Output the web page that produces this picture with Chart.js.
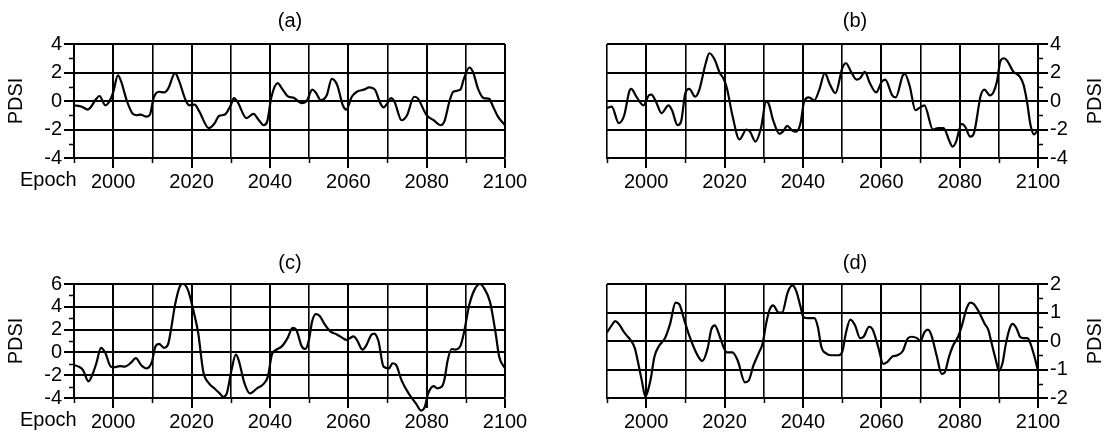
<!DOCTYPE html>
<html><head><meta charset="utf-8">
<script src="https://cdn.jsdelivr.net/npm/chart.js@4.4.0/dist/chart.umd.min.js"></script>
<style>
html,body{margin:0;padding:0;background:#fff;}
#wrap{position:relative;width:1119px;height:444px;overflow:hidden;background:#fff}
canvas{position:absolute}
</style></head><body>
<div id="wrap">
<canvas id="ca" width="559" height="222" style="left:0;top:0;width:559px;height:222px"></canvas>
<canvas id="cb" width="560" height="222" style="left:559px;top:0;width:560px;height:222px"></canvas>
<canvas id="cc" width="559" height="222" style="left:0;top:222px;width:559px;height:222px"></canvas>
<canvas id="cd" width="560" height="222" style="left:559px;top:222px;width:560px;height:222px"></canvas>
</div>
<script>
// ---- data ----
const yearsA = [1990,1992,1993.5,1995.7,1996.5,1998,1999,2000,2001.2,2002,2003.5,2005,2006,2007,2008.5,2009.4,2010.3,2011.7,2013,2014,2015.8,2016.7,2018.5,2019.4,2020.8,2022,2024.4,2025.8,2027,2028.5,2030,2030.8,2031.7,2034,2035.8,2037.2,2038.4,2039.3,2040.4,2042,2043,2044.5,2046.3,2048,2049.5,2050.8,2051.7,2053,2054.5,2055.8,2057.2,2058.6,2059.5,2060.9,2062.2,2064,2065.4,2066.8,2068,2069,2070,2070.9,2071.8,2073.6,2075,2076.8,2077.7,2080,2081.8,2083.6,2084.5,2085.9,2086.8,2088.6,2089.5,2090.9,2091.8,2093.2,2094.6,2096,2096.8,2098.2,2100];
const pdsiA  = [-0.3,-0.4,-0.6,0.15,0.35,-0.3,-0.05,0.6,1.8,1.4,0,-0.9,-1.0,-0.95,-1.1,-0.95,0.2,0.65,0.6,0.85,1.95,1.5,0.05,-0.3,-0.25,-0.75,-1.9,-1.6,-1.05,-0.95,-0.3,0.2,-0.05,-1.2,-0.9,-1.35,-1.7,-1.45,0.3,1.25,0.9,0.35,0.2,-0.15,0.05,0.8,0.6,0.05,0.4,1.55,1.1,-0.3,-0.6,0.3,0.65,0.8,0.95,0.8,-0.05,-0.45,-0.15,0.2,-0.05,-1.35,-1.0,0.3,0.2,-1.0,-1.35,-1.7,-1.45,0.05,0.65,0.8,1.55,2.35,2.05,0.8,0.2,0.15,-0.3,-1.1,-1.7];

const yearsB = [1990,1991.2,1993,1994.4,1995.7,1996.2,1997.5,1999.3,2000.7,2001.3,2002.5,2003.9,2005.7,2006.6,2008,2008.9,2010,2011,2012.5,2013.4,2015.2,2016.1,2017.5,2018.8,2019.7,2020.6,2022,2023.8,2025.6,2026.5,2027.9,2029.3,2030.6,2031.2,2032.4,2034,2034.9,2036,2037.2,2038.3,2039.4,2040.3,2041.5,2042.9,2044.2,2045.6,2046.9,2048.3,2050.1,2051,2052.3,2053.7,2054.6,2055.8,2057.1,2058.7,2060.1,2061,2062.8,2063.7,2065.5,2066,2067.3,2068.7,2069.6,2071,2073.2,2074.5,2075.9,2077.3,2078.2,2079.1,2080.5,2081.4,2082.7,2083.6,2085.4,2086.3,2087.7,2088.6,2089.5,2090.4,2091.3,2092.2,2093.6,2095.4,2096.3,2097.2,2098.1,2099,2100];
const pdsiB  = [-0.5,-0.4,-1.55,-1.0,0.7,0.85,0.3,-0.3,0.4,0.45,-0.05,-0.85,-0.3,-0.65,-1.7,-1.45,0.55,0.85,0.3,0.65,2.65,3.35,2.9,1.95,1.6,0.9,-1.0,-2.7,-2.0,-2.15,-2.85,-1.9,-0.05,-0.15,-1.35,-2.3,-2.15,-1.75,-2.05,-2.15,-1.55,-0.05,0.25,0.05,0.8,1.95,1.15,0.55,2.35,2.65,2.05,1.5,1.6,2.05,1.25,0.6,1.35,1.5,0.4,0.25,1.8,1.9,1.0,-0.65,-0.5,-0.3,-2.0,-1.9,-1.9,-2.75,-3.2,-2.85,-1.6,-1.8,-2.5,-2.3,0.4,0.8,0.4,0.6,1.35,2.8,3.0,2.8,2.1,1.7,1.15,-0.05,-1.7,-2.35,-2.0];

const yearsC = [1990,1991.2,1992.3,1993.7,1994.8,1995.7,1996.9,1998,1999.4,2000.3,2001.7,2003,2004.4,2005.8,2007.1,2008.5,2009.9,2010.8,2011.7,2013,2014,2014.9,2015.8,2017.1,2017.8,2019,2019.9,2020.8,2021.7,2023,2024.4,2025.8,2027.2,2028.1,2029,2030.2,2031.3,2032,2033.5,2034.9,2036.7,2038.1,2039.5,2040.5,2041.7,2043.1,2044.5,2045.8,2046.7,2048.1,2049,2049.9,2050.8,2051.7,2052.7,2054,2055.4,2057.2,2058.6,2059.5,2060.4,2061.3,2062.2,2063.6,2064.5,2065.9,2066.6,2067.7,2069,2070.4,2071.3,2072.2,2073.6,2075.4,2077.3,2078.6,2079.5,2080.4,2081.8,2082.7,2083.9,2084.5,2085.4,2086.4,2087.3,2088.6,2089.5,2090.9,2092.3,2093.6,2094.8,2096.2,2097.6,2098.5,2100];
const pdsiC  = [-1.1,-1.25,-1.55,-2.55,-1.85,-0.95,0.4,-0.05,-1.25,-1.3,-1.2,-1.25,-0.95,-0.5,-1.1,-1.4,-0.8,0.55,0.75,0.4,0.7,2.3,4.2,5.85,6.0,5.55,4.5,3.2,1.7,-1.7,-2.7,-3.15,-3.6,-3.9,-3.6,-1.55,-0.2,-0.65,-2.7,-3.6,-3.15,-2.85,-2.1,-0.2,0.25,0.55,1.25,2.15,2.0,0.55,0.3,1.0,2.75,3.35,3.2,2.45,1.85,1.55,1.25,1.1,1.25,1.4,1.1,0.25,0.55,1.55,1.65,1.0,-1.25,-1.4,-0.95,-1.1,-2.45,-3.6,-4.5,-5.1,-4.8,-3.6,-2.95,-3.15,-3.0,-2.45,-0.65,0.3,0.25,0.55,1.7,4.2,5.55,6.0,5.55,4.4,1.7,-0.35,-1.4];

const yearsD = [1990,1991.2,1992.1,1993,1994.4,1995.3,1996.2,1997.1,1998,1998.9,1999.8,2000.2,2001.2,2002.1,2003.4,2004.8,2006.1,2007.5,2008.4,2009.8,2011.1,2012.9,2014.3,2015.7,2016.6,2017.5,2018.8,2019.7,2020.6,2022,2023.4,2025.2,2026.1,2027.4,2028.8,2029.7,2030.6,2031.5,2032.4,2033.8,2034.7,2036.1,2037.3,2038.3,2039.4,2040.1,2041.5,2042.9,2043.8,2044.7,2046.1,2047.4,2049.2,2050.1,2051,2052.1,2053.3,2054.6,2055.5,2056.9,2057.8,2059.2,2060.5,2061.4,2062.8,2064.1,2065.5,2066.8,2067.8,2069.1,2070,2071,2071.9,2072.8,2074.2,2075.4,2076.2,2077.3,2078.2,2079.6,2080.5,2081.8,2082.7,2083.6,2085,2086.4,2087.3,2088.2,2089.3,2090,2090.9,2091.8,2092.8,2093.5,2094.5,2095.4,2096.3,2097.3,2098.1,2099,2100];
const pdsiD  = [0.3,0.55,0.7,0.6,0.3,0.15,0.0,-0.25,-0.8,-1.4,-1.95,-1.85,-1.3,-0.55,-0.15,0.1,0.6,1.35,1.3,0.7,0.15,-0.45,-0.7,-0.25,0.4,0.55,0.15,-0.2,-0.4,-0.4,-0.7,-1.45,-1.4,-0.85,-0.4,-0.1,0.6,1.1,1.25,1.0,1.0,1.7,1.95,1.75,1.2,0.85,0.8,0.8,0.5,-0.2,-0.45,-0.5,-0.5,-0.35,0.3,0.75,0.55,0.1,0.15,0.5,0.4,-0.2,-0.8,-0.75,-0.55,-0.5,-0.35,0.1,0.15,0.1,0.0,0.3,0.4,0.2,-0.55,-1.15,-1.1,-0.55,-0.2,0.15,0.5,1.15,1.35,1.3,1.0,0.6,0.4,-0.1,-0.7,-1.05,-0.8,-0.1,0.45,0.6,0.45,0.15,0.1,0.1,-0.1,-0.5,-1.05];

const panelTitles = ['(a)', '(b)', '(c)', '(d)'];
const xTickLabels = [2000, 2020, 2040, 2060, 2080, 2100];
const yTickLabelsAB = [-4, -2, 0, 2, 4];
const yTickLabelsC = [-4, -2, 0, 2, 4, 6];
const yTickLabelsD = [-2, -1, 0, 1, 2];
const axisTitle = 'PDSI';
const xAxisName = 'Epoch';

// ---- drawing ----
const FONT = "'Liberation Sans', Arial, sans-serif";
const FS = 20;

function makePanel(id, years, values, o) {
  const H = 222;
  const extras = {
    id: 'extras',
    afterDraw(chart) {
      const ctx = chart.ctx;
      const xs = chart.scales.x, ys = chart.scales.y;
      const ca = chart.chartArea;
      ctx.save();
      ctx.strokeStyle = '#000';
      ctx.lineWidth = 1.5;
      xs.ticks.forEach(t => {
        if (!o.xLabels.includes(t.value)) {
          const px = Math.round(xs.getPixelForValue(t.value)) + 0.5;
          ctx.beginPath(); ctx.moveTo(px, ca.bottom); ctx.lineTo(px, ca.bottom + 5); ctx.stroke();
        }
      });
      ys.ticks.forEach(t => {
        if (!o.yLabels.includes(t.value)) {
          const py = Math.round(ys.getPixelForValue(t.value)) + 0.5;
          ctx.beginPath();
          if (o.side === 'left') { ctx.moveTo(ca.left, py); ctx.lineTo(ca.left - 5, py); }
          else { ctx.moveTo(ca.right, py); ctx.lineTo(ca.right + 5, py); }
          ctx.stroke();
        }
      });
      ctx.fillStyle = '#000';
      ctx.font = FS + 'px ' + FONT;
      ctx.textAlign = 'center'; ctx.textBaseline = 'middle';
      ctx.fillText(o.title, o.titleX, o.titleY);
      if (o.epoch) {
        ctx.textAlign = 'left'; ctx.textBaseline = 'top';
        ctx.fillText(xAxisName, 20, ca.bottom + 12);
      }
      ctx.translate(o.pdsiX, (ca.top + ca.bottom) / 2);
      ctx.rotate(-Math.PI / 2);
      ctx.textAlign = 'center'; ctx.textBaseline = 'middle';
      ctx.fillText(axisTitle, 0, 0);
      ctx.restore();
    }
  };
  const pts = years.map((x, i) => ({ x: x, y: values[i] }));
  return new Chart(document.getElementById(id), {
    type: 'line',
    data: { datasets: [{ data: pts, borderColor: '#000', borderWidth: 2.2, pointRadius: 0,
      cubicInterpolationMode: 'monotone', fill: false, clip: false }] },
    options: {
      responsive: false, animation: false, devicePixelRatio: 1,
      layout: { padding: { left: o.padL, right: o.padR, top: o.top, bottom: 0 } },
      plugins: { legend: { display: false }, tooltip: { enabled: false }, title: { display: false } },
      scales: {
        x: {
          type: 'linear', min: 1990, max: 2100,
          afterFit: s => { s.height = H - o.bottom; },
          ticks: { stepSize: 10, autoSkip: false, maxRotation: 0, minRotation: 0, padding: 2,
            color: '#000', font: { family: FONT, size: FS },
            callback: v => o.xLabels.includes(v) ? String(v) : '' },
          grid: { color: '#000', tickLength: 10,
            lineWidth: c => (c.tick && o.xLabels.includes(c.tick.value)) ? 2 : 1.6,
            tickColor: c => (c.tick && o.xLabels.includes(c.tick.value)) ? '#000' : 'rgba(0,0,0,0)',
            tickWidth: 2 },
          border: { display: true, color: '#000', width: 2 }
        },
        y: {
          type: 'linear', position: o.side, min: o.yMin, max: o.yMax,
          afterFit: s => { s.width = o.yW; },
          ticks: { stepSize: o.yStep, autoSkip: false, padding: 2, color: '#000',
            font: { family: FONT, size: FS },
            callback: v => o.yLabels.includes(v) ? String(v) : '' },
          grid: { color: c => (c.tick && o.yLabels.includes(c.tick.value)) ? '#000' : 'rgba(0,0,0,0)',
            lineWidth: 2, tickLength: 10, tickWidth: 2,
            tickColor: c => (c.tick && o.yLabels.includes(c.tick.value)) ? '#000' : 'rgba(0,0,0,0)' },
          border: { display: true, color: '#000', width: 2 }
        }
      }
    },
    plugins: [extras]
  });
}

makePanel('ca', yearsA, pdsiA, { side: 'left', padL: 0, padR: 54, yW: 74, top: 44, bottom: 158,
  yMin: -4, yMax: 4, yStep: 1, yLabels: yTickLabelsAB, xLabels: xTickLabels,
  title: panelTitles[0], titleX: 290, titleY: 21, epoch: true, pdsiX: 16 });
makePanel('cb', yearsB, pdsiB, { side: 'right', padL: 48, padR: 0, yW: 81, top: 44, bottom: 158,
  yMin: -4, yMax: 4, yStep: 1, yLabels: yTickLabelsAB, xLabels: xTickLabels,
  title: panelTitles[1], titleX: 296, titleY: 21, epoch: false, pdsiX: 536 });
makePanel('cc', yearsC, pdsiC, { side: 'left', padL: 0, padR: 54, yW: 74, top: 62, bottom: 176,
  yMin: -4, yMax: 6, yStep: 1, yLabels: yTickLabelsC, xLabels: xTickLabels,
  title: panelTitles[2], titleX: 290, titleY: 41, epoch: true, pdsiX: 16 });
makePanel('cd', yearsD, pdsiD, { side: 'right', padL: 48, padR: 0, yW: 81, top: 62, bottom: 176,
  yMin: -2, yMax: 2, yStep: 0.5, yLabels: yTickLabelsD, xLabels: xTickLabels,
  title: panelTitles[3], titleX: 296, titleY: 41, epoch: false, pdsiX: 536 });
</script>
</body></html>
